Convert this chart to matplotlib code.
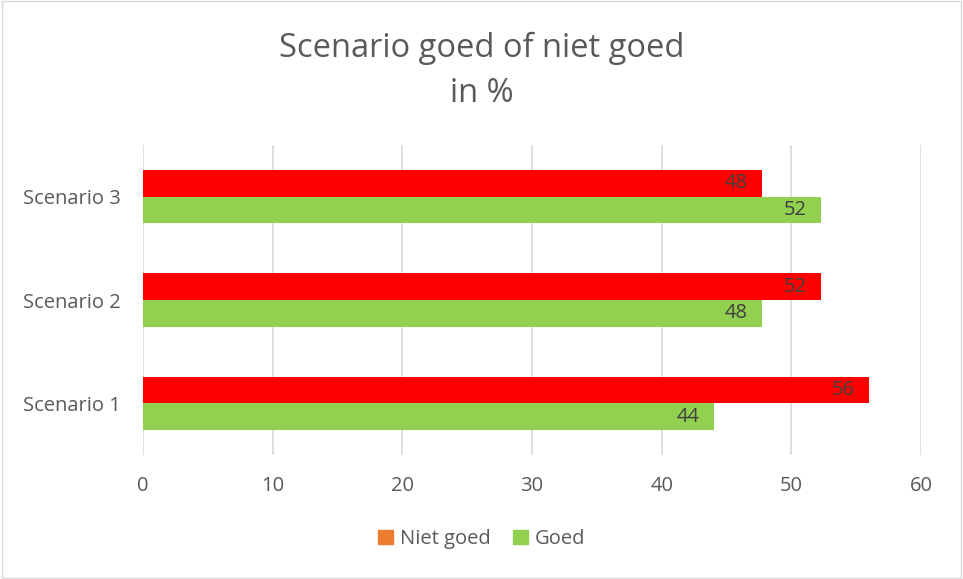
import matplotlib
matplotlib.use("Agg")
import matplotlib.pyplot as plt
from matplotlib.patches import Patch, Rectangle

categories = ["Scenario 1", "Scenario 2", "Scenario 3"]
niet_goed = [56, 52.3, 47.7]
goed = [44, 47.7, 52.3]
xticks = [0, 10, 20, 30, 40, 50, 60]

FONT = ["Open Sans", "DejaVu Sans"]
plt.rcParams['font.family'] = FONT

fig = plt.figure(figsize=(9.63, 5.79), dpi=100)
ax = fig.add_axes([143/963, 1-455/579, (921-143)/963, (455-145)/579])

h = 0.257
ypos = list(range(len(categories)))
red = ax.barh([y + h/2 for y in ypos], niet_goed, height=h, color="#FF0000", zorder=3)
green = ax.barh([y - h/2 for y in ypos], goed, height=h, color="#92D050", zorder=3)

for bars, vals in ((red, niet_goed), (green, goed)):
    for b, v in zip(bars, vals):
        ax.annotate(f"{v:.0f}", (b.get_width(), b.get_y() + b.get_height()/2),
                    xytext=(-14, 0), textcoords="offset pixels", ha="right", va="center",
                    fontsize=14.5, color="#404040", zorder=4)

ax.set_xlim(0, 60)
ax.set_ylim(-0.5, 2.5)
ax.set_xticks(xticks)
ax.set_yticks(ypos)
ax.set_yticklabels(categories)
ax.grid(axis="x", color="#D9D9D9", linewidth=1.2, zorder=0)
for s in ax.spines.values():
    s.set_visible(False)
ax.tick_params(axis="both", length=0, labelsize=14.5, labelcolor="#595959")
ax.tick_params(axis="x", pad=15)
ax.tick_params(axis="y", pad=16)

fig.text(0.5, 1-48/579, "Scenario goed of niet goed", ha="center", va="center",
         fontsize=23.5, color="#595959")
fig.text(0.5, 1-94/579, "in %", ha="center", va="center", fontsize=23.5, color="#595959")

handles = [Patch(color="#ED7D31"), Patch(color="#92D050")]
fig.legend(handles, ["Niet goed", "Goed"], loc="center", bbox_to_anchor=(0.5, 1-539/579),
           ncol=2, frameon=False, fontsize=14.5, labelcolor="#595959",
           handlelength=0.75, handleheight=0.75, handletextpad=0.35, columnspacing=1.1)

fig.patches.append(Rectangle((0.002, 0.002), 0.996, 0.996, transform=fig.transFigure,
                             fill=False, edgecolor="#D9D9D9", linewidth=1))

fig.savefig("out.png", dpi=100)
